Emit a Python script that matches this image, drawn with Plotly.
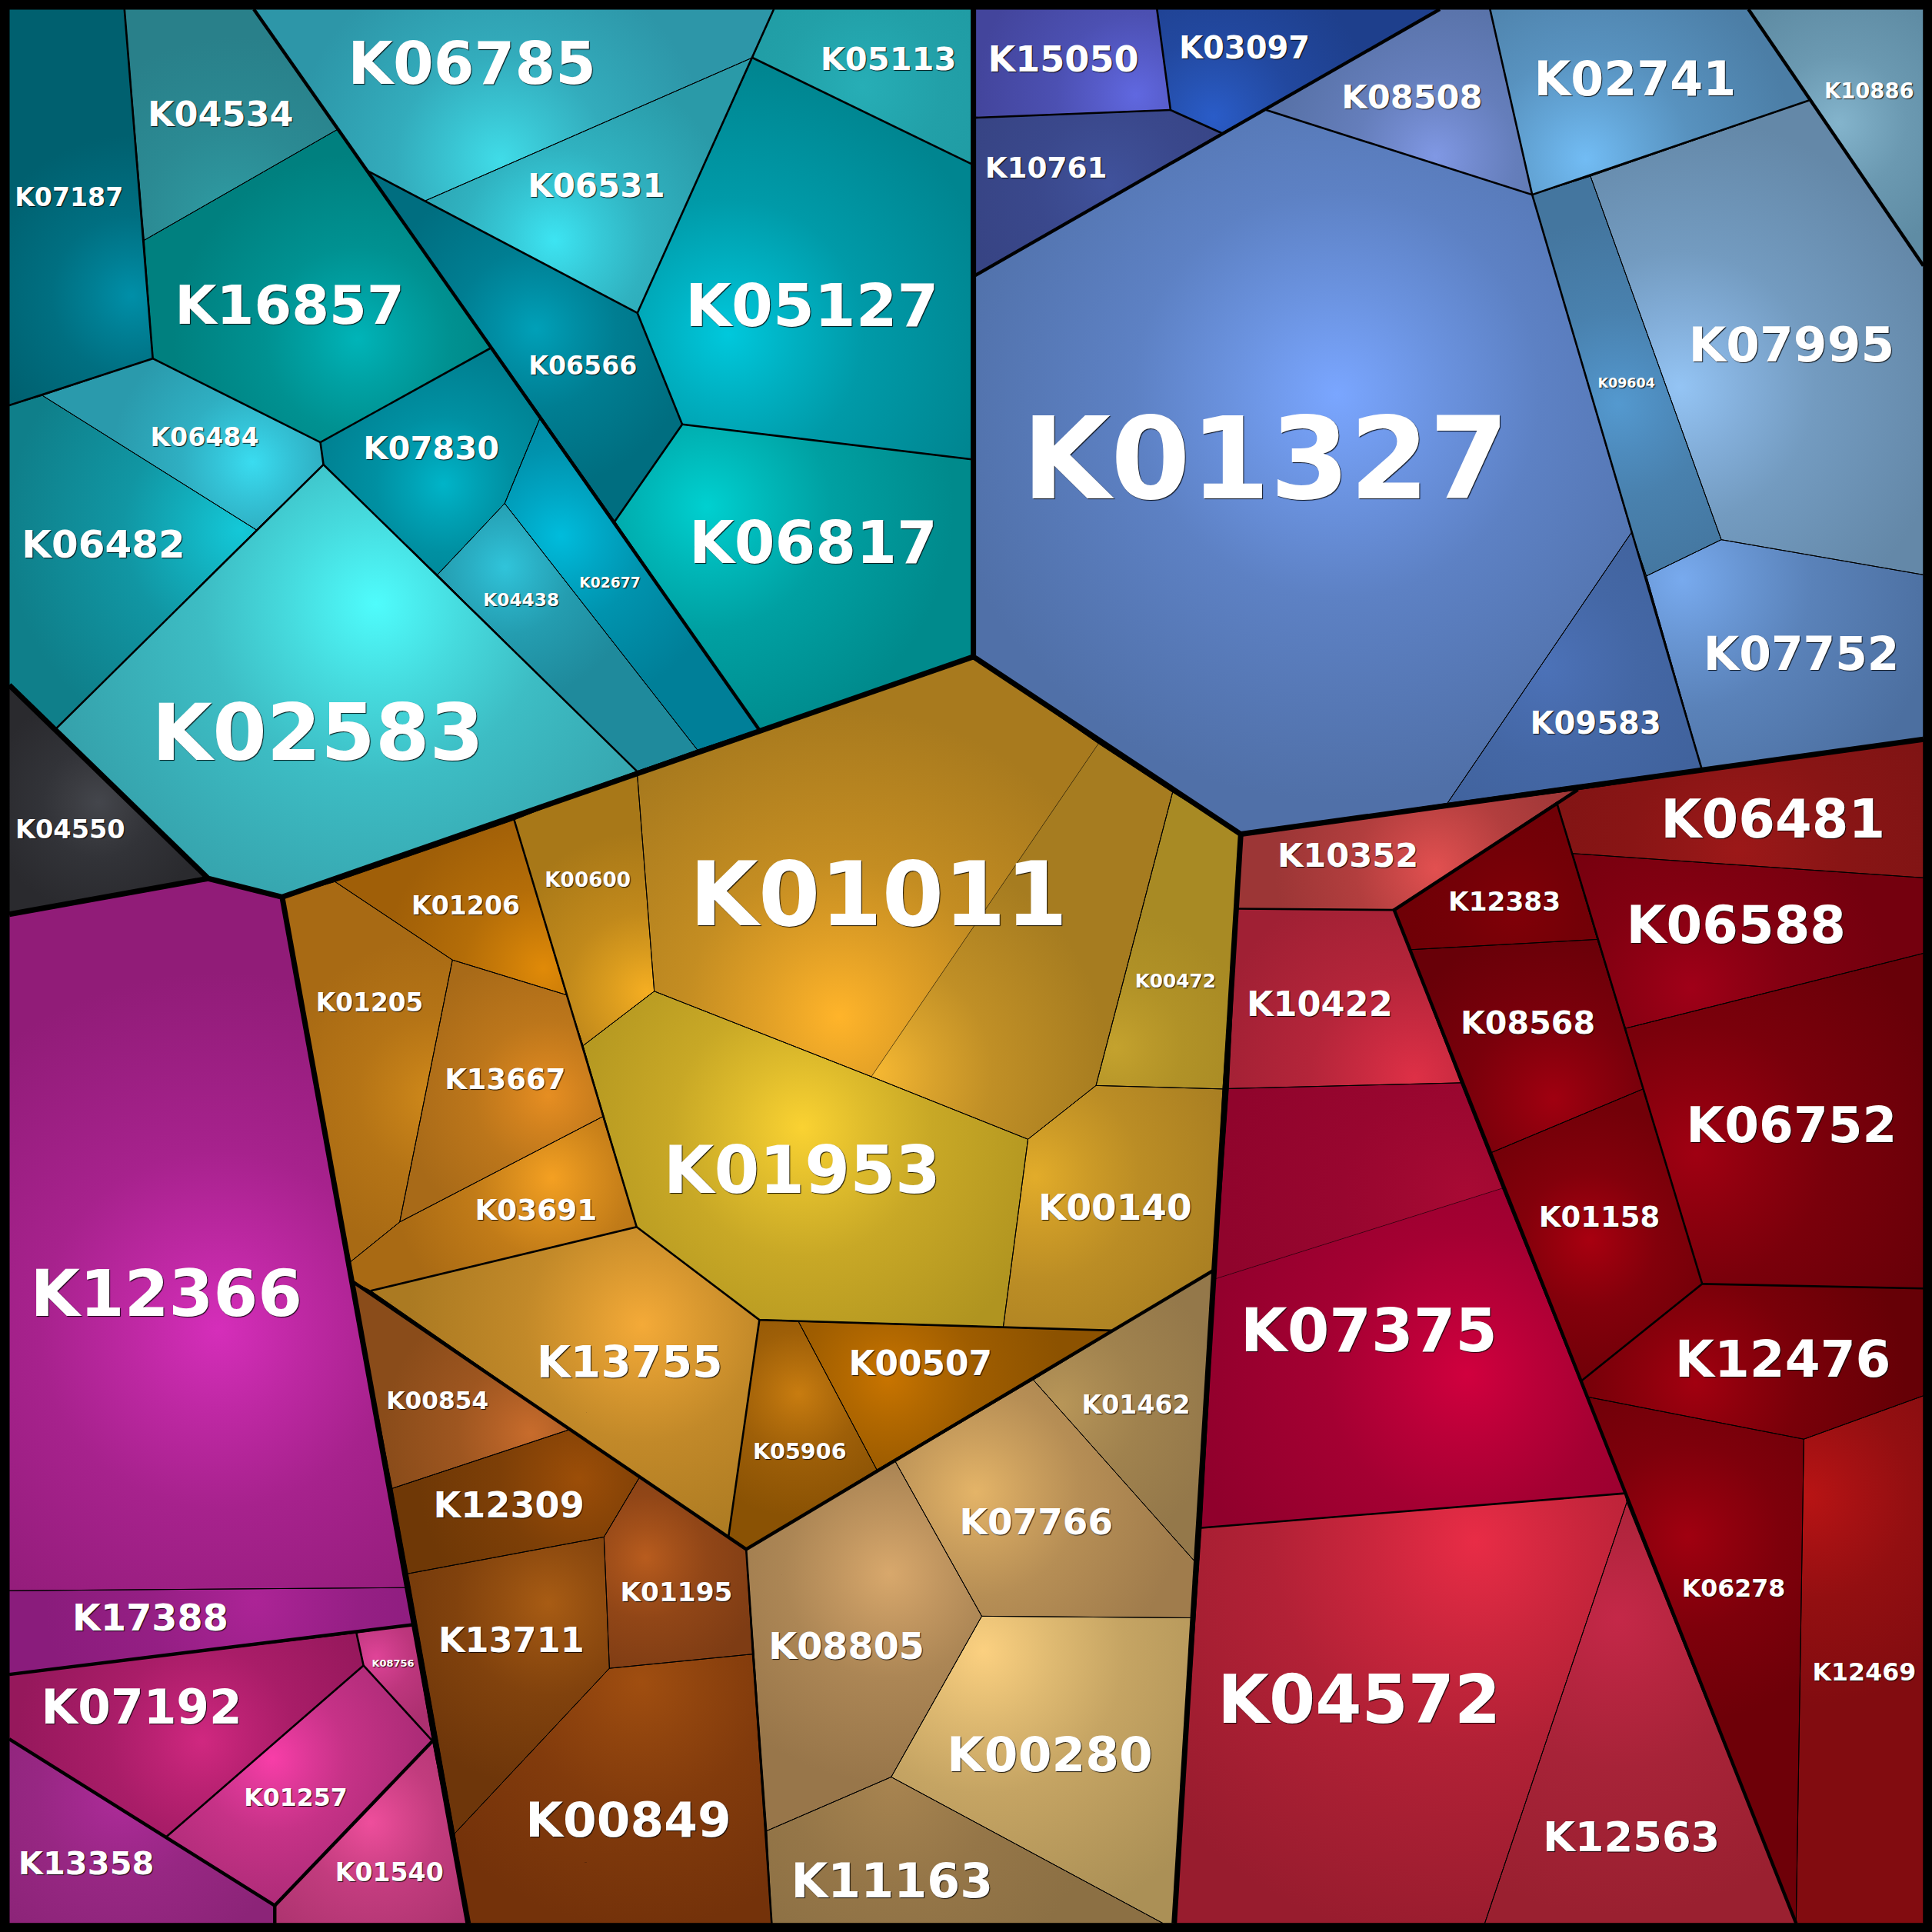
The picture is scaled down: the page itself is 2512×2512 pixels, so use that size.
import plotly.graph_objects as go

# Voronoi treemap, everything in a 1568 x 1568 space
L, T, R, B = 7.5, 7.5, 1561, 1561

cell_names = [
    "K07187", "K04534", "K16857", "K06484", "K06482", "K02583", "K07830", "K04438",
    "K02677", "K06785", "K05113", "K06531", "K06566", "K05127", "K06817",
    "K04550",
    "K15050", "K03097", "K10761", "K08508", "K01327", "K09583", "K07752", "K09604",
    "K07995", "K02741", "K10886",
    "K01206", "K01205", "K13667", "K03691", "K00600", "K01011", "", "K00472", "K00140",
    "K01953", "K13755", "K05906", "K00507", "K00854", "K12309", "K01195", "K13711", "K00849",
    "K01462", "K07766", "K08805", "K00280", "K11163",
    "K12366", "K17388", "K07192", "K08756", "K01257", "K13358", "K01540",
    "K10352", "K10422", "", "K07375", "K04572", "K12563", "K06278", "K12469", "K12476",
    "K01158", "K08568", "K12383", "K06481", "K06588", "K06752",
]

cell_polys = [
    # teal
    [(L, T), (101, T), (124, 291), (L, 329)],
    [(101, T), (206, T), (274, 105), (117, 195)],
    [(117, 195), (274, 105), (398, 282.6), (260, 359), (124, 291)],
    [(34.4, 321), (124, 291), (260, 359), (262.5, 377), (208, 430)],
    [(L, 329), (34.4, 321), (208, 430), (45.8, 591), (L, 556)],
    [(45.8, 591), (208, 430), (262.5, 377), (355, 466.5), (517, 626), (229, 728), (169, 713)],
    [(260, 359), (398, 282.6), (438, 340), (409.6, 408.6), (355, 466.5), (262.5, 377)],
    [(409.6, 408.6), (566, 608.6), (517, 626), (355, 466.5)],
    [(438, 340), (616, 592), (566, 608.6), (409.6, 408.6)],
    [(206, T), (628, T), (610.6, 46.8), (345, 163), (298.6, 138.8)],
    [(628, T), (790, T), (790, 133.8), (610.6, 46.8)],
    [(345, 163), (610.6, 46.8), (517.3, 254)],
    [(298.6, 138.8), (345, 163), (517.3, 254), (553.7, 344.4), (499, 423)],
    [(610.6, 46.8), (790, 133.8), (790, 373), (553.7, 344.4), (517.3, 254)],
    [(553.7, 344.4), (790, 373), (790, 533), (616, 592), (499, 423)],
    # black corner
    [(L, 556), (45.8, 591), (169, 713), (L, 742)],
    # blue
    [(790, T), (939, T), (950, 89.3), (790, 95.6)],
    [(939, T), (1168.6, T), (991.5, 108), (950, 89.3)],
    [(790, 95.6), (950, 89.3), (991.5, 108), (790, 224.4)],
    [(1168.6, T), (1209.3, T), (1243.5, 158), (1027.6, 89.3)],
    [(790, 224.4), (991.5, 108), (1027.6, 89.3), (1243.5, 158), (1324.2, 432), (1174.6, 652), (1007, 677), (790, 533)],
    [(1324.2, 432), (1336.2, 467.5), (1381, 623.6), (1174.6, 652)],
    [(1336.2, 467.5), (1397, 438), (R, 466.5), (R, 600), (1381, 623.6)],
    [(1243.5, 158), (1290.8, 143), (1397, 438), (1336.2, 467.5), (1324.2, 432)],
    [(1290.8, 143), (1468.7, 81.3), (R, 215.7), (R, 466.5), (1397, 438)],
    [(1209.3, T), (1419, T), (1468.7, 81.3), (1290.8, 143), (1243.5, 158)],
    [(1419, T), (R, T), (R, 215.7), (1468.7, 81.3)],
    # gold and brown
    [(271.9, 715.6), (417.3, 665.4), (459.8, 807.5), (367.2, 779.1)],
    [(229, 728), (271.9, 715.6), (367.2, 779.1), (324.4, 991.8), (284.3, 1024.2)],
    [(367.2, 779.1), (459.8, 807.5), (473.2, 848.7), (489.2, 906.2), (324.4, 991.8)],
    [(324.4, 991.8), (489.2, 906.2), (516.7, 995.8), (301, 1047.6), (286, 1040), (284.3, 1024.2)],
    [(417.3, 665.4), (517, 626), (531, 804.5), (473.2, 848.7), (459.8, 807.5)],
    [(517, 626), (790, 533), (891.5, 603.5), (707.2, 873.8), (531, 804.5)],
    [(891.5, 603.5), (951.7, 643), (889.5, 881), (834.3, 924.6), (707.2, 873.8)],
    [(951.7, 643), (1007, 677), (992.5, 883.8), (889.5, 881)],
    [(889.5, 881), (992.5, 883.8), (985, 1031), (902.2, 1079.8), (814.2, 1077.2), (834.3, 924.6)],
    [(473.2, 848.7), (531, 804.5), (707.2, 873.8), (834.3, 924.6), (814.2, 1077.2), (616.3, 1071.2), (516.7, 995.8)],
    [(301, 1047.6), (516.7, 995.8), (616.3, 1071.2), (591.2, 1247.4), (463, 1160)],
    [(616.3, 1071.2), (648, 1072.5), (711.6, 1192.8), (605.6, 1257.4), (591.2, 1247.4)],
    [(648, 1072.5), (902.2, 1079.8), (711.6, 1192.8)],
    [(286, 1040), (463, 1160), (318.3, 1208)],
    [(318.3, 1208), (463, 1160), (519, 1199), (490.2, 1247.4), (331, 1277.2)],
    [(519, 1199), (605.6, 1257.4), (610.6, 1342.5), (494.6, 1354), (490.2, 1247.4)],
    [(331, 1277.2), (490.2, 1247.4), (494.6, 1354), (368.9, 1488.2)],
    [(368.9, 1488.2), (494.6, 1354), (610.6, 1342.5), (626.3, B), (380, B)],
    # tan
    [(838.6, 1119.9), (985, 1031), (969.7, 1267.3)],
    [(726.6, 1186.1), (838.6, 1119.9), (969.7, 1267.3), (966.7, 1313), (796.8, 1311.7)],
    [(605.6, 1257.4), (726.6, 1186.1), (796.8, 1311.7), (723.3, 1442.2), (622.3, 1485.9)],
    [(796.8, 1311.7), (966.7, 1313), (953, B), (944, B), (723.3, 1442.2)],
    [(622.3, 1485.9), (723.3, 1442.2), (944, B), (626.3, B)],
    # purple
    [(L, 742), (169, 713), (229, 728), (331, 1288.5), (L, 1291)],
    [(L, 1291), (331, 1288.5), (335, 1318.6), (L, 1359)],
    [(L, 1359), (289.3, 1325.3), (295, 1351.7), (134.8, 1490.9), (L, 1411.4)],
    [(289.3, 1325.3), (335, 1318.6), (351, 1413), (295, 1351.7)],
    [(295, 1351.7), (351, 1413), (223, 1546.5), (134.8, 1490.9)],
    [(L, 1411.4), (134.8, 1490.9), (223, 1546.5), (223, B), (L, B)],
    [(351, 1413), (380, B), (223, B), (223, 1546.5)],
    # red
    [(1007, 677), (1280.5, 641), (1131.5, 738.5), (1004, 737.5)],
    [(1004, 737.5), (1131.5, 738.5), (1185.5, 878.8), (997, 883.5)],
    [(997, 883.5), (1185.5, 878.8), (1219.3, 964.4), (986, 1038)],
    [(986, 1038), (1219.3, 964.4), (1319, 1212), (975, 1240)],
    [(975, 1240), (1319, 1212), (1320.3, 1219.3), (1205, B), (953, B)],
    [(1320.3, 1219.3), (1457.7, B), (1205, B)],
    [(1288.8, 1133.8), (1464, 1168), (1457.7, B)],
    [(1464, 1168), (R, 1132.8), (R, B), (1457.7, B)],
    [(1283.2, 1120.9), (1381.5, 1042), (R, 1045.7), (R, 1132.8), (1464, 1168), (1288.8, 1133.8)],
    [(1210, 935.6), (1333.5, 883.8), (1381.5, 1042), (1283.2, 1120.9)],
    [(1144, 770.8), (1296.4, 762.4), (1333.5, 883.8), (1210, 935.6)],
    [(1131.5, 738.5), (1263.3, 651), (1296.4, 762.4), (1144, 770.8)],
    [(1280.5, 641), (R, 600), (R, 712.4), (1276.2, 692.7), (1263.3, 651)],
    [(1276.2, 692.7), (R, 712.4), (R, 773.7), (1319.3, 834.6), (1296.4, 762.4)],
    [(1319.3, 834.6), (R, 773.7), (R, 1045.7), (1381.5, 1042), (1333.5, 883.8)],
]

glow_x = [
    107, 190, 290, 205, 195, 305, 360, 410, 455, 406, 700, 450, 435, 591, 574,
    80,
    922, 985, 900, 1165, 1085, 1254, 1365, 1313, 1363, 1287, 1492,
    441, 355, 445, 448, 525, 681, 710, 905, 840, 651, 521, 648, 721, 431, 470, 524, 445, 520,
    860, 792, 722, 798, 725,
    177, 207, 164, 305, 221, 100, 301,
    1165, 1148, 1190, 1191, 1197, 1313, 1370, 1466, 1376, 1290, 1261, 1230, 1410, 1373, 1377,
]
glow_y = [
    240, 180, 275, 375, 430, 490, 393, 460, 435, 130, 70, 195, 267, 271, 411,
    651,
    77, 95, 150, 127, 320, 541, 470, 328, 314, 129, 100,
    786, 890, 889, 956, 805, 825, 870, 850, 955, 915, 1075, 1131, 1118, 1163, 1200, 1264, 1301, 1365,
    1140, 1211, 1277, 1340, 1445,
    1079, 1299, 1413, 1345, 1427, 1457, 1479,
    705, 875, 970, 1115, 1251, 1314, 1247, 1214, 1122, 1006, 892, 740, 690, 802, 936,
]
glow_r = [
    130, 150, 150, 115, 190, 280, 110, 110, 140, 170, 130, 150, 130, 220, 200,
    90,
    130, 130, 120, 130, 330, 150, 210, 150, 220, 170, 110,
    130, 130, 120, 130, 130, 250, 190, 110, 170, 210, 190, 100, 140, 120, 130, 100, 150, 200,
    130, 170, 170, 230, 170,
    290, 170, 150, 60, 120, 140, 110,
    130, 170, 200, 230, 330, 240, 150, 170, 170, 110, 140, 100, 170, 160, 210,
]
glow_in = [
    "#008fa8", "#2f9ea5", "#00b4b8", "#3adcf0", "#14c8d8", "#4ffcfc", "#00b4c8", "#30c4da",
    "#00bcdc", "#40dce8", "#27aeb6", "#3de4f2", "#00a0b8", "#00c8dc", "#00d0d0",
    "#44464c",
    "#6068e0", "#2a5cc8", "#40529c", "#8098e4", "#7aa6ff", "#4c72b8", "#78aaee", "#5499cf",
    "#94c4f4", "#72bcf4", "#84b4cc",
    "#e08a08", "#d08a1a", "#e68e22", "#f4a022", "#f5ae22", "#ffb42a", "#f6b832", "#c4a22e", "#e2ac2a",
    "#fad232", "#f4aa38", "#c87c10", "#c87400", "#c86c2c", "#9c4e08", "#b85c1e", "#a85c14", "#a04e10",
    "#b89658", "#e4b468", "#d8a86c", "#fbd080", "#a88450",
    "#d52eba", "#ac2496", "#d02880", "#e04498", "#f83ea8", "#ae2c9a", "#ee4e9c",
    "#e25050", "#de3046", "#a80a34", "#d0003e", "#e82c46", "#c42848", "#a00010", "#b81414", "#a20010",
    "#a80010", "#a00010", "#800008", "#9c1818", "#a00018", "#a00012",
]
glow_out = [
    "#00606f", "#29808a", "#00807f", "#2a9aac", "#0f7f8a", "#35a0aa", "#007f90", "#1f8a9c",
    "#007f98", "#2d96a8", "#1f9aa2", "#2a9aa8", "#006e80", "#008590", "#008a8c",
    "#2a2a2e",
    "#43459c", "#1e3f8c", "#374484", "#5872a8", "#5070a8", "#40629c", "#4c6fa0", "#44769f",
    "#6488a8", "#4c7ea6", "#5f8ca4",
    "#a05f08", "#a86a14", "#a86a18", "#a96a14", "#a87818", "#a87a1e", "#a67c20", "#a88a24", "#a87e22",
    "#b09420", "#ab7a22", "#8a5204", "#8c5200", "#8a4c1a", "#6f3806", "#7e3c14", "#6e360a", "#74320a",
    "#94784a", "#a07c4c", "#98764a", "#ab9056", "#8c7044",
    "#911c78", "#8a1c7c", "#96185c", "#ac3070", "#ae2c78", "#8c2478", "#ae3470",
    "#9c3636", "#a02034", "#90042c", "#90002c", "#981c2e", "#9a2030", "#6e0008", "#820c10", "#660006",
    "#720008", "#680008", "#6e0006", "#801414", "#74000e", "#680008",
]

# label centres and their drawn widths, same order as cell_names
label_x = [
    56, 179, 235, 166, 84, 258, 350, 423, 495, 383, 721, 484, 473, 659, 660,
    57,
    863, 1010, 849, 1146, 1027, 1295, 1462, 1320, 1454, 1327, 1517,
    378, 300, 410, 435, 477, 713, None, 954, 905, 651, 511, 649, 747, 355, 413, 549, 415, 510,
    922, 841, 687, 852, 724,
    135, 122, 115, 319, 240, 70, 316,
    1094, 1071, None, 1111, 1103, 1324, 1407, 1513, 1447, 1298, 1240, 1221, 1439, 1409, 1454,
]
label_y = [
    160, 93, 248, 355, 442, 595, 364, 487, 473, 52, 48, 151, 297, 248, 441,
    673,
    48, 39, 136, 79, 373, 587, 531, 311, 280, 64, 74,
    735, 814, 876, 982, 714, 726, None, 796, 980, 950, 1106, 1178, 1107, 1137, 1222, 1292, 1331, 1477,
    1140, 1235, 1336, 1424, 1527,
    1050, 1313, 1386, 1350, 1459, 1512, 1520,
    694, 815, None, 1080, 1380, 1491, 1289, 1357, 1103, 988, 830, 732, 665, 751, 913,
]
label_w = [
    87, 117, 184, 87, 131, 266, 109, 61, 49, 199, 109, 110, 87, 203, 199,
    88,
    121, 105, 98, 113, 390, 105, 157, 46, 165, 162, 72,
    87, 86, 97, 98, 69, 303, None, 65, 123, 222, 149, 75, 115, 82, 121, 90, 117, 165,
    87, 123, 125, 165, 162,
    218, 125, 161, 34, 83, 109, 87,
    113, 117, None, 206, 227, 142, 83, 83, 173, 97, 108, 90, 180, 176, 169,
]

# heavier edges, by rank of the split they belong to
edges_mid = [
    [(101, T), (124, 291)],
    [(L, 329), (124, 291), (260, 359), (398, 282.6)],
    [(45.8, 591), (262.5, 377), (517, 626)],
    [(260, 359), (262.5, 377)],
    [(298.6, 138.8), (517.3, 254), (553.7, 344.4), (499, 423)],
    [(553.7, 344.4), (790, 373)],
    [(628, T), (517.3, 254)],
    [(610.6, 46.8), (790, 133.8)],
    [(939, T), (950, 89.3), (991.5, 108)],
    [(790, 95.6), (950, 89.3)],
    [(1027.6, 89.3), (1243.5, 158), (1468.7, 81.3)],
    [(1209.3, T), (1243.5, 158), (1381, 623.6)],
    [(417.3, 665.4), (516.7, 995.8), (301, 1047.6)],
    [(516.7, 995.8), (616.3, 1071.2), (902.2, 1079.8)],
    [(616.3, 1071.2), (591.2, 1247.4)],
    [(605.6, 1257.4), (626.3, B)],
    [(1131.5, 738.5), (1004, 737.5)],
    [(975, 1240), (1319, 1212)],
    [(1263.3, 651), (1381.5, 1042), (1283.2, 1120.9)],
    [(1381.5, 1042), (R, 1045.7)],
    [(289.3, 1325.3), (295, 1351.7), (134.8, 1490.9)],
    [(295, 1351.7), (351, 1413)],
]
edges_major = [
    [(206, T), (616, 592)],
    [(790, 224.4), (1168.6, T)],
    [(1419, T), (R, 215.7)],
    [(1280.5, 641), (1131.5, 738.5), (1457.7, B)],
    [(286, 1040), (605.6, 1257.4), (985, 1031)],
    [(L, 1359), (335, 1318.6)],
    [(L, 1411.4), (223, 1546.5), (351, 1413)],
    [(223, 1546.5), (223, B)],
]
edges_top = [
    [(790, T), (790, 533), (1007, 677), (R, 600)],
    [(L, 556), (169, 713), (229, 728), (790, 533)],
    [(L, 742), (169, 713)],
    [(229, 728), (380, B)],
    [(1007, 677), (953, B)],
]
# hairlines between cells of nearly the same colour
edges_faint = [
    [(891.5, 603.5), (707.2, 873.8)],
    [(1219.3, 964.4), (986, 1038)],
]


def edge_trace(edges, width, color="black"):
    xs, ys = [], []
    for edge in edges:
        xs += [p[0] for p in edge] + [None]
        ys += [p[1] for p in edge] + [None]
    return go.Scatter(x=xs, y=ys, mode="lines", line=dict(color=color, width=width), hoverinfo="skip")


def mix(c_in, c_out, t):
    a = [int(c_in[i:i + 2], 16) for i in (1, 3, 5)]
    b = [int(c_out[i:i + 2], 16) for i in (1, 3, 5)]
    return "rgb(%d,%d,%d)" % tuple(round(u + (v - u) * t) for u, v in zip(a, b))


# outlines without the faint edges, each of those is drawn on its own
faint_keys = {frozenset(e) for e in edges_faint}
outline = []
for poly in cell_polys:
    for p, q in zip(poly, poly[1:] + poly[:1]):
        if frozenset((p, q)) not in faint_keys:
            outline.append([p, q])

fig = go.Figure()

for poly, gx, gy, gr, c_in, c_out in zip(cell_polys, glow_x, glow_y, glow_r, glow_in, glow_out):
    # radial fills are centred on the path's bounding box, so zero-area spikes
    # pull that box round the glow point
    half = max(gr, max(max(abs(p[0] - gx), abs(p[1] - gy)) for p in poly) + 1)
    xs = [p[0] for p in poly] + [poly[0][0]]
    ys = [p[1] for p in poly] + [poly[0][1]]
    xs += [gx - half, poly[0][0], gx + half, poly[0][0]]
    ys += [gy - half, poly[0][1], gy + half, poly[0][1]]
    # falls off a bit faster near the centre, then slowly
    k = gr / half
    fig.add_trace(go.Scatter(
        x=xs, y=ys, mode="lines", fill="toself",
        line=dict(width=0, simplify=False),
        fillgradient=dict(
            type="radial",
            colorscale=[
                [0, c_in],
                [0.25 * k, mix(c_in, c_out, 0.36)],
                [0.5 * k, mix(c_in, c_out, 0.68)],
                [k, c_out],
                [1, c_out],
            ],
        ),
        hoverinfo="skip",
    ))

fig.add_trace(edge_trace(outline, 1))
fig.add_trace(edge_trace(edges_faint, 1, "rgba(0,0,0,0.45)"))
fig.add_trace(edge_trace(edges_mid, 2.6))
fig.add_trace(edge_trace(edges_major, 4.4))
fig.add_trace(edge_trace(edges_top, 7))

# DejaVu Sans Bold: a label is about 4.2 em wide, 1568 space is 2512 px
names = [n for n in cell_names if n]
widths = [v for v in label_w if v is not None]
fig.add_trace(go.Scatter(
    x=[v for v in label_x if v is not None],
    # plotly's middle sits above the caps' centre
    y=[v + 0.022 * w for v, w in zip([v for v in label_y if v is not None], widths)],
    text=names,
    mode="text",
    textposition="middle center",
    textfont=dict(
        family="DejaVu Sans",
        weight=700,
        color="white",
        size=[w * 2512 / 1568 / 4.2 for w in widths],
        shadow="1px 1px 1px rgba(0,0,0,0.85)",
    ),
    hoverinfo="skip",
))

fig.update_layout(
    width=2512, height=2512, autosize=False,
    margin=dict(l=0, r=0, t=0, b=0),
    paper_bgcolor="black", plot_bgcolor="black",
    showlegend=False,
    xaxis=dict(range=[0, 1568], visible=False),
    yaxis=dict(range=[1568, 0], visible=False),
)

fig.write_html(
    "out.html",
    config={"displayModeBar": False},
    post_script="document.body.style.margin='0';",
)
